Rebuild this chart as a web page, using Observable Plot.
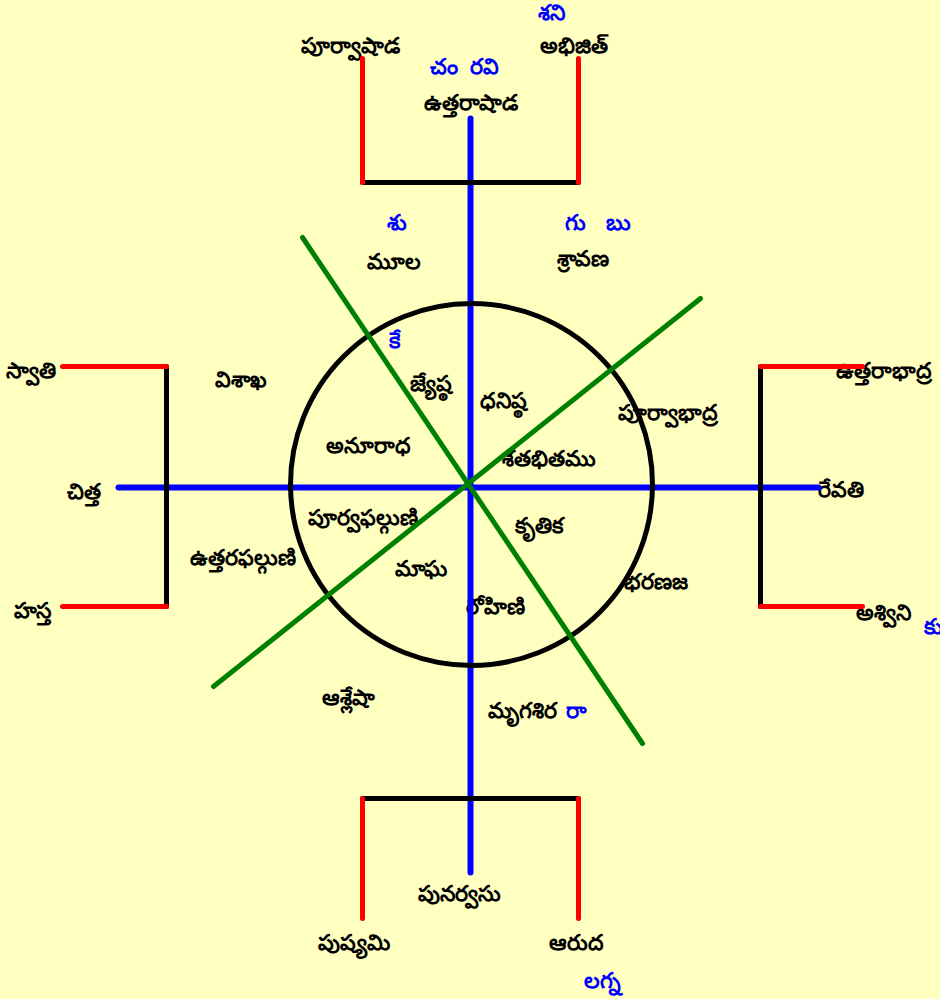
<!DOCTYPE html>
<html><head><meta charset="utf-8">
<script src="https://cdn.jsdelivr.net/npm/d3@7"></script>
<script src="https://cdn.jsdelivr.net/npm/@observablehq/plot@0.6"></script>
<style>html,body{margin:0;padding:0;background:#ffffc0;overflow:hidden}</style>
</head><body><div id="chart"></div>
<script>
// Diagram coordinates (diagram units)
const axisSegments = [
  {x1:470,y1:118,x2:470,y2:872},
  {x1:118,y1:487,x2:818,y2:487}
];
const diagonalSegments = [
  {x1:302,y1:237,x2:642,y2:743},
  {x1:213,y1:686,x2:700,y2:298}
];
const bracketBars = [
  {x1:362,y1:182,x2:578,y2:182},
  {x1:362,y1:798,x2:578,y2:798},
  {x1:166,y1:366,x2:166,y2:606},
  {x1:760,y1:366,x2:760,y2:606}
];
const bracketArms = [
  {x1:362,y1:58,x2:362,y2:182},{x1:578,y1:58,x2:578,y2:182},
  {x1:362,y1:798,x2:362,y2:918},{x1:578,y1:798,x2:578,y2:918},
  {x1:62,y1:366,x2:166,y2:366},{x1:62,y1:606,x2:166,y2:606},
  {x1:760,y1:366,x2:862,y2:366},{x1:760,y1:606,x2:862,y2:606}
];
const innerCircle = [{x:471,y:484}];
const nakshatras = [
  {name:"పూర్వాషాడ",x:350,y:45},{name:"అభిజిత్",x:573,y:45},{name:"ఉత్తరాషాడ",x:470,y:102},
  {name:"మూల",x:393,y:261},{name:"శ్రావణ",x:582,y:258},
  {name:"స్వాతి",x:30,y:370},{name:"విశాఖ",x:240,y:379},{name:"చిత్త",x:83,y:491},
  {name:"ఉత్తరఫల్గుణి",x:242,y:557},{name:"హస్త",x:32,y:610},
  {name:"జ్యేష్ఠ",x:430,y:383},{name:"ధనిష్ఠ",x:503,y:400},{name:"అనూరాధ",x:368,y:445},
  {name:"శతభితము",x:548,y:458},{name:"పూర్వాభాద్ర",x:667,y:412},{name:"పూర్వఫల్గుణి",x:362,y:517},
  {name:"కృతిక",x:538,y:525},{name:"మాఘ",x:420,y:568},{name:"రోహిణి",x:495,y:606},
  {name:"భరణజ",x:655,y:581},{name:"ఉత్తరాభాద్ర",x:883,y:370},{name:"రేవతి",x:840,y:489},
  {name:"అశ్విని",x:883,y:612},{name:"ఆశ్లేషా",x:348,y:697},{name:"మృగశిర",x:522,y:710},
  {name:"పునర్వసు",x:459,y:893},{name:"పుష్యమి",x:353,y:942},{name:"ఆరుద",x:576,y:942}
];
const planets = [
  {name:"శని",x:551,y:12},{name:"చం",x:443,y:66},{name:"రవి",x:484,y:66},{name:"శు",x:396,y:222},
  {name:"గు",x:575,y:222},{name:"బు",x:618,y:222},{name:"కే",x:394,y:340},{name:"కు",x:933,y:626},
  {name:"రా",x:576,y:710},{name:"లగ్న",x:602,y:980}
];

const lineOpts = {x1:"x1",y1:"y1",x2:"x2",y2:"y2",strokeLinecap:"round"};
const textOpts = {x:"x",y:"y",text:"name",fontSize:22,fontWeight:"bold",fontFamily:"sans-serif"};

const chart = Plot.plot({
  width:940, height:999, margin:0,
  style:{background:"#ffffc0"},
  x:{domain:[0,940],axis:null},
  y:{domain:[0,999],range:[0,999],axis:null},
  marks:[
    Plot.text(nakshatras,{...textOpts,fill:"black"}),
    Plot.text(planets,{...textOpts,fill:"#0000ff"}),
    Plot.link(axisSegments,{...lineOpts,stroke:"#0000ff",strokeWidth:6}),
    Plot.dot(innerCircle,{x:"x",y:"y",r:181,stroke:"black",strokeWidth:5,fill:"none"}),
    Plot.link(diagonalSegments,{...lineOpts,stroke:"#008000",strokeWidth:5}),
    Plot.link(bracketBars,{...lineOpts,stroke:"black",strokeWidth:5}),
    Plot.link(bracketArms,{...lineOpts,stroke:"#ff0000",strokeWidth:5})
  ]
});
document.getElementById("chart").appendChild(chart);
</script></body></html>
